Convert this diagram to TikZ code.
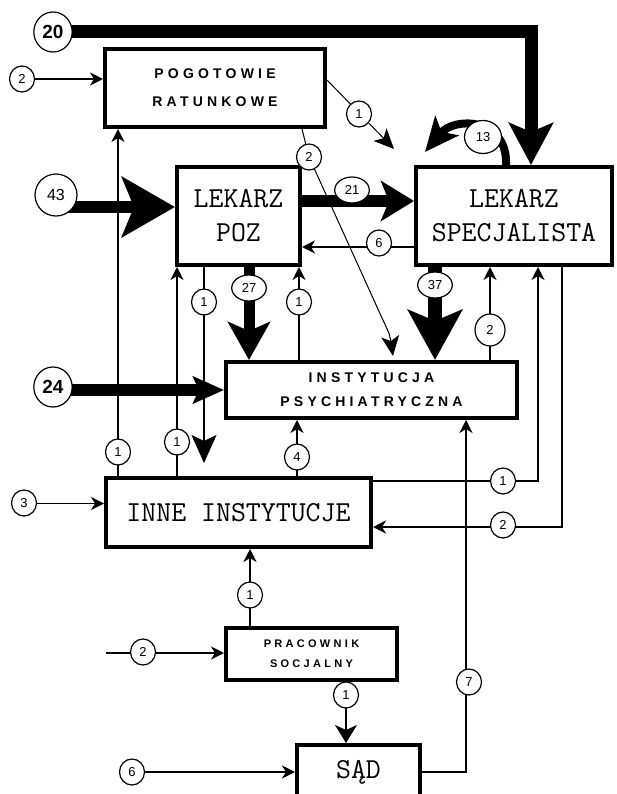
\documentclass[tikz,border=0pt]{standalone}
\usepackage{fontspec}
\usetikzlibrary{%
	calc,%
	arrows.meta,%
	positioning,%
	shapes.geometric,%
	backgrounds,%
}
\newfontfamily\spacedfont[LetterSpace=30]{Liberation Sans}
\newfontfamily\numfont{Liberation Sans}
\tikzset{
	>={Stealth[length=13pt,width=13pt,inset=4pt]},%
	nodes={align=center},%
	box/.style={%
			draw,%
			rectangle,%
			line width=4pt,%
			inner sep=0pt,%
			fill=white},%
	bigtext/.style={font={\ttfamily\fontsize{29}{34}\selectfont}},%
	smalltext/.style={font={\spacedfont\bfseries\fontsize{#1}{#1}\selectfont}},%
	num/.style={%
			draw,%
			ellipse,%
			line width=1.2pt,%
			fill=white,%
			inner xsep=5pt,%
			inner ysep=1pt,%
			minimum width=25pt,%
			minimum height=26pt,%
			font={\numfont\fontsize{13}{13}\selectfont}},%
	bignum/.style={%
			num,%
			inner xsep=3pt,%
			minimum width=38pt,%
			minimum height=40pt,%
			font={\numfont\bfseries\fontsize{19}{19}\selectfont}},%
	flow/.style={line width=1.5pt, ->},%
}

\begin{document}
\begin{tikzpicture}[x=1pt, y=-1pt]
	\useasboundingbox (0,0) rectangle (616,794);

	% institutions
	\node[box, smalltext=14, minimum width=220pt, minimum height=78pt] (pog) at (215,88)
		{POGOTOWIE\\[14pt]RATUNKOWE};
	\node[box, bigtext, minimum width=123pt, minimum height=98pt] (poz) at (238.5,216)
		{LEKARZ\\POZ};
	\node[box, bigtext, minimum width=196pt, minimum height=98pt] (spec) at (514,216)
		{LEKARZ\\SPECJALISTA};
	\node[box, smalltext=14, minimum width=291pt, minimum height=56pt] (inst) at (371.5,390)
		{INSTYTUCJA\\[10pt]PSYCHIATRYCZNA};
	\node[box, bigtext, minimum width=265pt, minimum height=69pt] (inne) at (238.5,512.5)
		{INNE INSTYTUCJE};
	\node[box, smalltext=11, minimum width=171pt, minimum height=52pt] (prac) at (311.5,654)
		{PRACOWNIK\\[9pt]SOCJALNY};
	\node[box, bigtext, minimum width=123pt, minimum height=54pt] (sad) at (358.5,772)
		{SĄD};

	% numbers of patients
	\node[bignum] (n20) at (53,32) {20};
	\node[num] (n2a) at (22,79) {2};
	\node[num] (n1a) at (359,114) {1};
	\node[num] (n2b) at (309,157) {2};
	\node[num, minimum width=37pt, minimum height=33pt] (n13) at (483,137) {13};
	\node[bignum, minimum width=42pt, minimum height=42pt, font={\numfont\fontsize{16}{16}\selectfont}] (n43) at (56,195) {43};
	\node[num] (n21) at (352,190) {21};
	\node[num] (n6) at (379,243) {6};
	\node[num] (n1b) at (204,302) {1};
	\node[num] (n27) at (249,288) {27};
	\node[num] (n1c) at (299,302) {1};
	\node[num] (n37) at (435,285) {37};
	\node[num, minimum width=30pt, minimum height=32pt] (n2c) at (490,330) {2};
	\node[bignum] (n24) at (53,387) {24};
	\node[num] (n1e) at (118,452) {1};
	\node[num] (n1f) at (177,442) {1};
	\node[num] (n4) at (297,457) {4};
	\node[num] (n1d) at (503,481) {1};
	\node[num] (n2d) at (503,525) {2};
	\node[num] (n3) at (24,503) {3};
	\node[num] (n1g) at (250,595) {1};
	\node[num] (n2e) at (143,652) {2};
	\node[num] (n7) at (469,682) {7};
	\node[num] (n1h) at (346,695) {1};
	\node[num] (n6b) at (132,772) {6};

	\coordinate (t1a) at (394,149);
	\coordinate (t2b) at (393,356);
	\coordinate (t13) at (425,152);
	\coordinate (t1b) at (204,463);
	\coordinate (k1) at (538,481);
	\coordinate (k2) at (562,527);
	\coordinate (k7) at (466,772);
	\coordinate (s2e) at (106,653);
	\coordinate (a43) at ($(poz.west)+(0,-9)$);
	\coordinate (a21) at ($(spec.west)+(0,-15)$);
	\coordinate (a6) at ($(spec.west)+(0,31)$);

	\begin{scope}[on background layer]
		% heavy flows
		\draw[line width=13pt, -{Stealth[length=42pt,width=44pt,inset=9pt]}] (n20.center) -| ($(spec.north)+(17,0)$);
		\draw[line width=8pt, -{Stealth[length=34pt,width=30pt,inset=8pt]}] ($(spec.north)+(-8,0)$)
			.. controls (508,118) and (455,116) .. (t13);
		\draw[line width=12pt, -{Stealth[length=53pt,width=60pt,inset=12pt]}] (n43.center |- a43) -- (a43);
		\draw[line width=12pt, -{Stealth[length=33pt,width=40pt,inset=8pt]}] (poz.east |- a21) -- (a21);
		\draw[line width=11pt, -{Stealth[length=38pt,width=42pt,inset=9pt]}] (poz.south -| n27) -- (inst.north -| n27);
		\draw[line width=14pt, -{Stealth[length=50pt,width=54pt,inset=11pt]}] (spec.south -| n37) -- (inst.north -| n37);
		\draw[line width=12pt, -{Stealth[length=31pt,width=27pt,inset=6pt]}] (n24.center |- inst.west) -- (inst.west);

		% single flows
		\draw[flow] (n2a.center |- pog.west) ++(0,-9) -- ($(pog.west)+(0,-9)$);
		\draw[line width=1pt, -{Stealth[length=20pt,width=18pt,inset=5pt]}] ($(pog.east)+(0,-8)$) -- (t1a);
		\draw[line width=1pt, -{Stealth[length=20pt,width=18pt,inset=5pt]}] ($(pog.south)+(87,0)$) -- (n2b.center)
			-- (382,318) .. controls (390,335) .. (t2b);
		\draw[flow] (a6) -- (poz.east |- a6);
		\draw[line width=2pt, -{Stealth[length=28pt,width=25pt,inset=6pt]}] (poz.south -| t1b) -- (t1b);
		\draw[flow] (inst.north -| n1c) -- (poz.south -| n1c);
		\draw[flow] (inst.north -| n2c) -- (spec.south -| n2c);
		\draw[flow] (inne.north -| n1e) -- (pog.south -| n1e);
		\draw[flow] (inne.north -| n1f) -- (poz.south -| n1f);
		\draw[flow] (inne.north -| n4) -- (inst.south -| n4);
		\draw[flow] (inne.north east |- k1) -- (k1) -- (k1 |- spec.south);
		\draw[flow] (spec.south -| k2) -- (k2) -- (inne.east |- k2);
		\draw[flow] (n3.center |- inne.west) ++(0,-9) -- ($(inne.west)+(0,-9)$);
		\draw[flow] (prac.north -| n1g) -- (inne.south -| n1g);
		\draw[flow] (s2e) -- (prac.west |- s2e);
		\draw[line width=1.5pt, -{Stealth[length=18pt,width=22pt,inset=5pt]}] (prac.south -| n1h) -- (sad.north -| n1h);
		\draw[flow] (n6b.center |- sad.west) -- (sad.west);
		\draw[flow] (sad.east |- k7) -- (k7) -- (k7 |- inst.south);
	\end{scope}
\end{tikzpicture}
\end{document}
